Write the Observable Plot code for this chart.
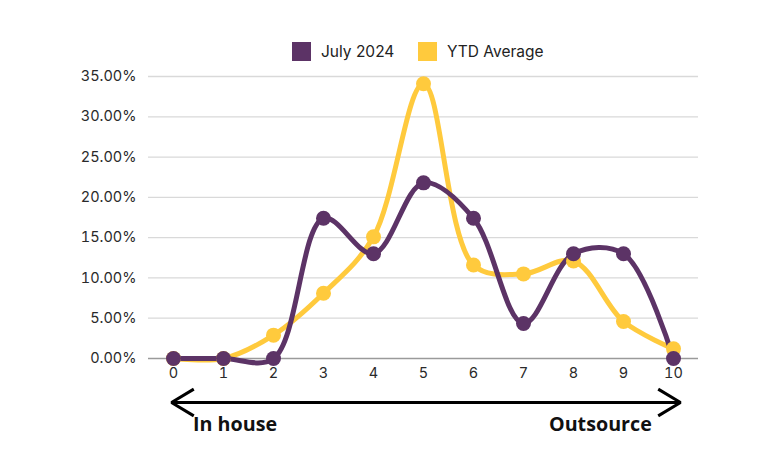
<!DOCTYPE html>
<html>
<head>
<meta charset="utf-8">
<script src="https://cdn.jsdelivr.net/npm/d3@7"></script>
<script src="https://cdn.jsdelivr.net/npm/@observablehq/plot@0.6"></script>
<style>
  html, body { margin: 0; padding: 0; background: #fff; }
  #wrap { position: relative; width: 767px; height: 464px; font-family: "Inter", sans-serif; }
  .leg { position: absolute; top: 41px; height: 20px; display: flex; align-items: center; font-size: 15.5px; color: #222; }
  .sw { width: 19px; height: 19px; margin-right: 10px; }
  .note { position: absolute; top: 413.5px; line-height: 1; font-family: "Open Sans", sans-serif; font-weight: 700; font-size: 19.7px; color: #111; }
</style>
</head>
<body>
<div id="wrap"></div>
<script>
const scores = [0, 1, 2, 3, 4, 5, 6, 7, 8, 9, 10];
const july2024 = [0, 0, 0, 0.174, 0.130, 0.218, 0.174, 0.0435, 0.130, 0.130, 0];
const ytdAverage = [0, 0, 0.029, 0.081, 0.151, 0.341, 0.116, 0.105, 0.121, 0.046, 0.012];
const seriesNames = ["July 2024", "YTD Average"];
const seriesColors = ["#5c3366", "#ffca3d"];
const yTicks = [0, 0.05, 0.10, 0.15, 0.20, 0.25, 0.30, 0.35];
const leftLabel = "In house";
const rightLabel = "Outsource";

const rows = [
  ...scores.map((s, i) => ({score: s, value: ytdAverage[i], series: seriesNames[1]})),
  ...scores.map((s, i) => ({score: s, value: july2024[i], series: seriesNames[0]}))
];

const color = {domain: seriesNames, range: seriesColors};
const fmt = d => (d * 100).toFixed(2) + "%";

const chart = Plot.plot({
  width: 767,
  height: 464,
  marginLeft: 148,
  marginRight: 69,
  marginTop: 76,
  marginBottom: 106,
  style: {fontFamily: "Inter, sans-serif", fontSize: "14.5px", color: "#2a2a2a", background: "transparent"},
  x: {domain: [-0.5, 10.5], label: null},
  y: {domain: [0, 0.35], label: null},
  color,
  marks: [
    Plot.gridY(yTicks.filter(d => d > 0), {stroke: "#d9d9d9", strokeOpacity: 1, strokeWidth: 1.3}),
    Plot.ruleY([0], {stroke: "#9a9a9a", strokeWidth: 1.3}),
    Plot.axisX({ticks: scores, tickFormat: d => String(d), tickSize: 0, tickPadding: 9, fontSize: 14.5, label: null}),
    Plot.axisY({ticks: yTicks, tickFormat: fmt, tickSize: 0, tickPadding: 12, fontSize: 14.5, label: null}),
    Plot.line(rows, {x: "score", y: "value", z: "series", stroke: "series", strokeWidth: 5, curve: "catmull-rom"}),
    Plot.dot(rows, {x: "score", y: "value", fill: "series", r: 7.5}),
    Plot.arrow([{x1: 5.5, x2: -0.04}, {x1: 4.5, x2: 10.14}], {
      x1: "x1", x2: "x2", y1: () => -0.05462, y2: () => -0.05462,
      stroke: "#000", strokeWidth: 3, headLength: 13, headAngle: 62, strokeLinecap: "butt"
    })
  ]
});

const wrap = document.getElementById("wrap");
wrap.appendChild(chart);

// legend
const legPos = [292, 418];
seriesNames.forEach((name, i) => {
  const el = document.createElement("div");
  el.className = "leg";
  el.style.left = legPos[i] + "px";
  el.innerHTML = `<span class="sw" style="background:${seriesColors[i]}"></span><span>${name}</span>`;
  wrap.appendChild(el);
});

// annotations
const n1 = document.createElement("div");
n1.className = "note"; n1.style.left = "193px"; n1.textContent = leftLabel;
wrap.appendChild(n1);
const n2 = document.createElement("div");
n2.className = "note"; n2.style.left = "549px"; n2.textContent = rightLabel;
wrap.appendChild(n2);
</script>
</body>
</html>
